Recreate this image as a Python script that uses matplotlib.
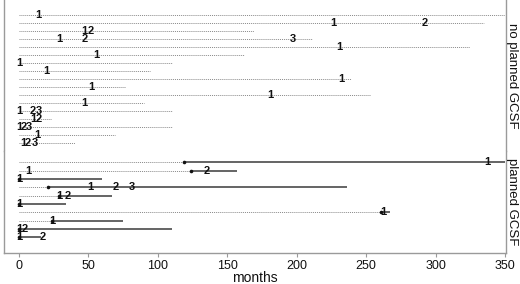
import matplotlib
matplotlib.use("Agg")
import matplotlib.pyplot as plt

plt.rcParams['font.family'] = ['Liberation Sans', 'DejaVu Sans']

# ---- data: "no planned GCSF" (follow-up only, dotted) ----
top_end = [350, 335, 169, 211, 325, 162, 110, 94, 239, 76, 253, 90, 110, 23, 110, 69, 40]
top_events = [[14], [226, 292], [47, 52], [29, 47, 197], [231], [56], [0], [20],
              [232], [52], [181], [47], [0, 10, 14.4], [10, 14.4], [0, 3.6, 7.2],
              [13.5], [3, 6.5, 11.5]]

# ---- data: "planned GCSF" (dotted until GCSF start, solid afterwards) ----
bot_start = [119, 124, 0, 21, 29, 0, 261, 24, 0, 0]
bot_end = [350, 157, 60, 236, 67, 34, 267, 75, 110, 16]
bot_events = [[337], [6.5, 135], [0], [51, 70, 81], [29, 35], [0], [262], [24],
              [0, 4], [0, 17]]

panel_labels = ["no planned GCSF", "planned GCSF"]
xticks = [0, 50, 100, 150, 200, 250, 300, 350]
xlabel = "months"

W, H = 520, 284
fig = plt.figure(figsize=(W / 100, H / 100), dpi=100)

def px_axes(x0, y0, x1, y1):
    return fig.add_axes([x0 / W, 1 - y1 / H, (x1 - x0) / W, (y1 - y0) / H])

ax_top = px_axes(4, 0, 506, 151)
ax_bot = px_axes(4, 151, 506, 253)

xlim = (-10.8, 350.7)
dot_kw = dict(color='#8a8a8a', lw=0.7, ls=(0, (1, 1)), solid_capstyle='butt')
sol_kw = dict(color='#3a3a3a', lw=1.1, solid_capstyle='butt')
txt_kw = dict(ha='center', va='center', fontsize=8, fontweight='bold', color='#111111')

# top panel
for i, (end, ev) in enumerate(zip(top_end, top_events)):
    y = i + 1
    ax_top.plot([0, end], [y, y], **dot_kw)
    for k, e in enumerate(ev):
        ax_top.text(e, y, str(k + 1), **txt_kw)
ax_top.set_xlim(*xlim)
ax_top.set_ylim(18.0, -0.875)

# bottom panel
for i, (s, end, ev) in enumerate(zip(bot_start, bot_end, bot_events)):
    y = i + 1
    if s > 0:
        ax_bot.plot([0, s], [y, y], **dot_kw)
    ax_bot.plot([s, end], [y, y], **sol_kw)
    ax_bot.plot([s], [y], 'o', ms=2.6, color='#111111', mec='none')
    for k, e in enumerate(ev):
        ax_bot.text(e, y, str(k + 1), **txt_kw)
ax_bot.set_xlim(*xlim)
ax_bot.set_ylim(11.875, -0.375)

for ax in (ax_top, ax_bot):
    ax.set_yticks([])
    for side in ('left', 'right'):
        ax.spines[side].set_color('#9a9a9a')
        ax.spines[side].set_linewidth(1.0)
ax_top.spines['top'].set_visible(False)
ax_top.spines['bottom'].set_visible(False)
ax_top.set_xticks([])
ax_bot.spines['top'].set_visible(False)
ax_bot.spines['bottom'].set_color('#9a9a9a')
ax_bot.spines['bottom'].set_linewidth(1.0)

ax_bot.set_xticks(xticks)
ax_bot.set_xticklabels([str(t) for t in xticks])
ax_bot.tick_params(axis='x', length=3, width=0.8, color='#9a9a9a', pad=2,
                   labelsize=9, labelcolor='#111111')
ax_bot.set_xlabel(xlabel, fontsize=10, color='#111111', labelpad=-1)

# strip labels on the right
ax_top.text(1.0 + 6 / 502, 0.5, panel_labels[0], transform=ax_top.transAxes,
            rotation=-90, ha='center', va='center', fontsize=9.5, color='#111111')
ax_bot.text(1.0 + 6 / 502, 0.5, panel_labels[1], transform=ax_bot.transAxes,
            rotation=-90, ha='center', va='center', fontsize=9.5, color='#111111')

fig.savefig("out.png", dpi=100)
